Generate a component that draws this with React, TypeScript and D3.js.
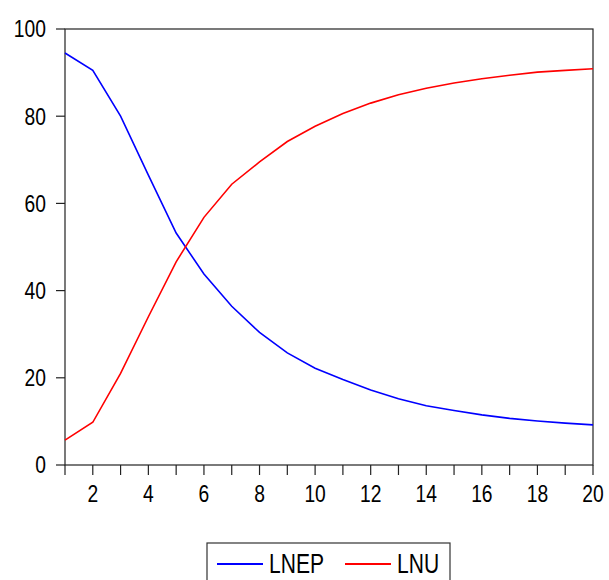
import { useEffect, useRef } from 'react';
import * as d3 from 'd3';

const periods = d3.range(1, 21);
const lnep = [94.5, 90.5, 80.0, 66.5, 53.2, 43.8, 36.4, 30.4, 25.7, 22.2, 19.6, 17.2, 15.2, 13.6, 12.5, 11.5, 10.7, 10.1, 9.6, 9.2];
const lnu = [5.7, 9.8, 21.0, 34.0, 46.6, 56.8, 64.4, 69.5, 74.2, 77.7, 80.6, 83.0, 84.9, 86.4, 87.6, 88.6, 89.4, 90.1, 90.5, 90.9];
const yTicks = [0, 20, 40, 60, 80, 100];
const xLabels = [2, 4, 6, 8, 10, 12, 14, 16, 18, 20];

const series = [
  { name: 'LNEP', values: lnep, color: '#0000ff' },
  { name: 'LNU', values: lnu, color: '#ff0000' },
];

const App = () => {
  const svgRef = useRef<SVGSVGElement>(null);
  const width = 609;
  const height = 580;
  const margin = { top: 29, right: 16, bottom: 115, left: 65 };
  // the original text is drawn tall and narrow
  const squeeze = 0.82;

  useEffect(() => {
    if (!svgRef.current) return;
    const svg = d3.select(svgRef.current);
    svg.selectAll('*').remove();
    svg.style('font-family', '"Liberation Sans", Arial, sans-serif');

    const x = d3.scaleLinear().domain([1, 20]).range([margin.left, width - margin.right]);
    const y = d3.scaleLinear().domain([0, 100]).range([height - margin.bottom, margin.top]);

    // frame
    svg
      .append('rect')
      .attr('x', x(1))
      .attr('y', y(100))
      .attr('width', x(20) - x(1))
      .attr('height', y(0) - y(100))
      .attr('fill', 'none')
      .attr('stroke', '#222')
      .attr('stroke-width', 1.2);

    // y axis
    const yAxis = svg.append('g').attr('transform', `translate(${x(1)},0)`);
    yAxis
      .selectAll('line')
      .data(yTicks)
      .enter()
      .append('line')
      .attr('x1', -9)
      .attr('x2', 0)
      .attr('y1', (d) => y(d))
      .attr('y2', (d) => y(d))
      .attr('stroke', '#222')
      .attr('stroke-width', 1.2);
    yAxis
      .selectAll('text')
      .data(yTicks)
      .enter()
      .append('text')
      .attr('transform', (d) => `translate(-19,${y(d)}) scale(${squeeze},1)`)
      .attr('dy', '0.36em')
      .attr('text-anchor', 'end')
      .attr('font-size', 23.5)
      .attr('fill', '#000')
      .text((d) => d);

    // x axis
    const xAxis = svg.append('g').attr('transform', `translate(0,${y(0)})`);
    xAxis
      .selectAll('line')
      .data(periods)
      .enter()
      .append('line')
      .attr('x1', (d) => x(d))
      .attr('x2', (d) => x(d))
      .attr('y1', 0)
      .attr('y2', 10)
      .attr('stroke', '#222')
      .attr('stroke-width', 1.2);
    xAxis
      .selectAll('text')
      .data(xLabels)
      .enter()
      .append('text')
      .attr('transform', (d) => `translate(${x(d)},37) scale(${squeeze},1)`)
      .attr('text-anchor', 'middle')
      .attr('font-size', 23.5)
      .attr('fill', '#000')
      .text((d) => d);

    // lines
    const line = d3
      .line<number>()
      .x((_, i) => x(periods[i]))
      .y((d) => y(d));

    series.forEach((s) => {
      svg
        .append('path')
        .datum(s.values)
        .attr('d', line)
        .attr('fill', 'none')
        .attr('stroke', s.color)
        .attr('stroke-width', 1.6);
    });

    // legend
    const legend = svg.append('g');
    legend
      .append('rect')
      .attr('x', 207)
      .attr('y', 543)
      .attr('width', 243)
      .attr('height', 50)
      .attr('fill', 'none')
      .attr('stroke', '#333')
      .attr('stroke-width', 1.2);
    const items = [
      { s: series[0], x0: 217 },
      { s: series[1], x0: 345 },
    ];
    items.forEach(({ s, x0 }) => {
      legend
        .append('line')
        .attr('x1', x0)
        .attr('x2', x0 + 46)
        .attr('y1', 564)
        .attr('y2', 564)
        .attr('stroke', s.color)
        .attr('stroke-width', 2);
      legend
        .append('text')
        .attr('transform', `translate(${x0 + 52},563) scale(0.78,1)`)
        .attr('dy', '0.36em')
        .attr('font-size', 27)
        .attr('fill', '#000')
        .text(s.name);
    });
  }, []);

  return (
    <svg
      ref={svgRef}
      width={width}
      height={height}
      style={{ position: 'absolute', left: 0, top: 0, background: '#fff' }}
    />
  );
};

export default App;
